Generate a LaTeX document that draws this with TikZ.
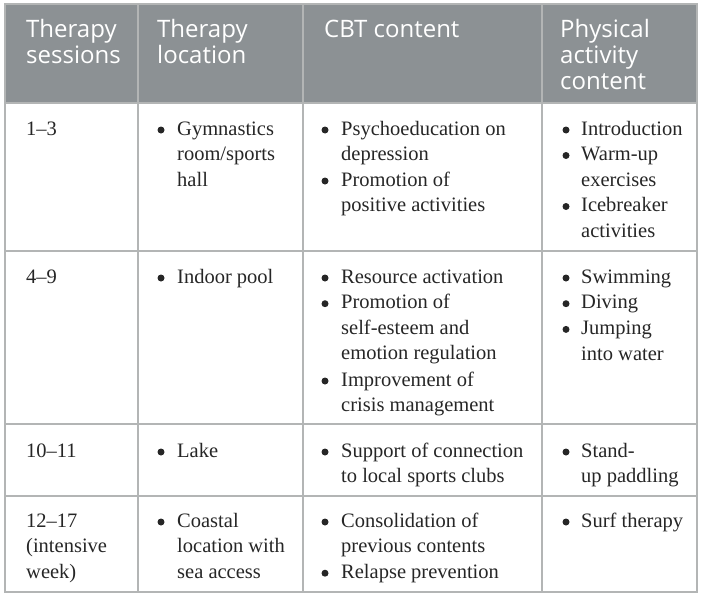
\documentclass[tikz,border=0pt]{standalone}
\usepackage{fontspec}
\setmainfont{Liberation Serif}
\newfontfamily\headfont{Open Sans}
\definecolor{hdrgray}{HTML}{8C9194}
\definecolor{rulegray}{HTML}{B3B5B5}
\definecolor{inkgray}{HTML}{262626}
\newcommand{\lines}[1]{\begin{tabular}[t]{@{}l@{}}#1\end{tabular}}
\tikzset{%
    rul/.style={line width=1.6pt, draw=rulegray},
    hdr/.style={anchor=base west, inner sep=0pt, font=\headfont\fontsize{24}{26.5}\selectfont, text=white},
    txt/.style={anchor=base west, inner sep=0pt, font=\fontsize{20.5}{25.6}\selectfont, text=inkgray},
    bul/.style={circle, fill=inkgray, inner sep=0pt, minimum size=7pt, yshift=5pt},
}

\begin{document}
\begin{tikzpicture}[x=1pt,y=-1pt]
    \useasboundingbox (0,0) rectangle (702,597);
    \coordinate (tl) at (5,4);
    \coordinate (br) at (697,592);
    % header band and rules
    \fill [hdrgray] (tl) rectangle (697,103);
    \draw [rul] (138,4) -- (138,592) (303,4) -- (303,592) (542,4) -- (542,592);
    \draw [rul] (5,103) -- (697,103) (5,251) -- (697,251) (5,424) -- (697,424) (5,496) -- (697,496);
    \draw [rul] (tl) rectangle (br);
    % header
    \node [hdr] (hses) at (26,37) {\lines{Therapy\\sessions}};
    \node [hdr] (hloc) at (157,37) {\lines{Therapy\\location}};
    \node [hdr] (hcbt) at (324,37) {CBT content};
    \node [hdr] (hpa) at (560,37) {\lines{Physical\\activity\\content}};
    % row 1
    \node [txt] (s1) at (26,135) {1--3};
    \node [bul] (l1d) at (161,135) {};
    \node [txt] (l1) at (177,135) {\lines{Gymnastics\\room/sports\\hall}};
    \node [bul] (c1ad) at (325,135) {};
    \node [txt] (c1a) at (341,135) {\lines{Psychoeducation on\\depression}};
    \node [bul] (c1bd) at (325,186) {};
    \node [txt] (c1b) at (341,186) {\lines{Promotion of\\positive activities}};
    \node [bul] (p1ad) at (566,135) {};
    \node [txt] (p1a) at (581,135) {Introduction};
    \node [bul] (p1bd) at (566,160.5) {};
    \node [txt] (p1b) at (581,160.5) {\lines{Warm-up\\exercises}};
    \node [bul] (p1cd) at (566,211.5) {};
    \node [txt] (p1c) at (581,211.5) {\lines{Icebreaker\\activities}};
    % row 2
    \node [txt] (s2) at (26,283) {4--9};
    \node [bul] (l2d) at (161,283) {};
    \node [txt] (l2) at (177,283) {Indoor pool};
    \node [bul] (c2ad) at (325,283) {};
    \node [txt] (c2a) at (341,283) {Resource activation};
    \node [bul] (c2bd) at (325,308.7) {};
    \node [txt] (c2b) at (341,308.7) {\lines{Promotion of\\self-esteem and\\emotion regulation}};
    \node [bul] (c2cd) at (325,386) {};
    \node [txt] (c2c) at (341,386) {\lines{Improvement of\\crisis management}};
    \node [bul] (p2ad) at (566,283) {};
    \node [txt] (p2a) at (581,283) {Swimming};
    \node [bul] (p2bd) at (566,308.7) {};
    \node [txt] (p2b) at (581,308.7) {Diving};
    \node [bul] (p2cd) at (566,334.4) {};
    \node [txt] (p2c) at (581,334.4) {\lines{Jumping\\into water}};
    % row 3
    \node [txt] (s3) at (26,457) {10--11};
    \node [bul] (l3d) at (161,457) {};
    \node [txt] (l3) at (177,457) {Lake};
    \node [bul] (c3d) at (325,457) {};
    \node [txt] (c3) at (341,457) {\lines{Support of connection\\to local sports clubs}};
    \node [bul] (p3d) at (566,457) {};
    \node [txt] (p3) at (581,457) {\lines{Stand-\\up paddling}};
    % row 4
    \node [txt] (s4) at (26,527) {\lines{12--17\\(intensive\\week)}};
    \node [bul] (l4d) at (161,527) {};
    \node [txt] (l4) at (177,527) {\lines{Coastal\\location with\\sea access}};
    \node [bul] (c4ad) at (325,527) {};
    \node [txt] (c4a) at (341,527) {\lines{Consolidation of\\previous contents}};
    \node [bul] (c4bd) at (325,578.2) {};
    \node [txt] (c4b) at (341,578.2) {Relapse prevention};
    \node [bul] (p4d) at (566,527) {};
    \node [txt] (p4) at (581,527) {Surf therapy};
\end{tikzpicture}
\end{document}
